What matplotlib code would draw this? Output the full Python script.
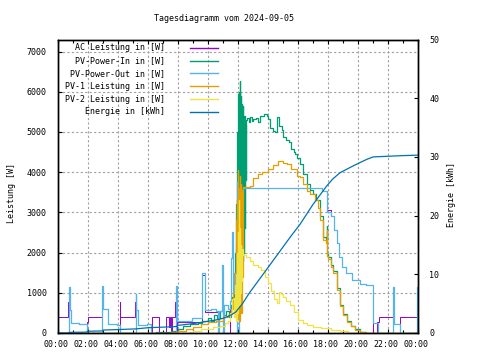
import matplotlib
matplotlib.use("Agg")
import matplotlib.pyplot as plt
from matplotlib.patches import Rectangle
from matplotlib.ticker import MultipleLocator
from matplotlib.transforms import ScaledTranslation

# time in hours, power in W, energy in kWh
ac_t = [0, 0.68, 0.72, 1.93, 2.0, 2.95, 4.12, 4.16, 5.13, 5.17, 6.25, 6.73, 7.22, 7.40, 7.47,
        7.55, 7.62, 7.78, 7.85, 7.9, 9.58, 9.8, 10.69, 11.45, 11.55, 11.6, 11.65, 11.75,
        11.85, 11.93, 11.96, 12.05, 12.15, 12.25, 12.33, 17.6, 17.9, 18.2, 18.4, 18.6,
        18.73, 18.95, 19.2, 19.6, 20.1, 20.5, 21.02, 21.24, 21.4, 22.36, 22.8, 24.0]
ac_w = [390, 780, 0, 280, 390, 0, 780, 390, 780, 0, 390, 0, 390, 150, 390,
        0, 390, 780, 0, 280, 1450, 520, 0, 800, 1870, 2500, 1000, 1500,
        2200, 3700, 0, 2800, 3200, 3550, 3610, 3520, 3070, 2900, 2570, 2250,
        1900, 1650, 1490, 1320, 1220, 1190, 0, 280, 390, 0, 390, 390]

pv_in_t = [0, 6.5, 7.5, 8.0, 8.3, 8.8, 9.3, 9.6, 10.0, 10.2, 10.4, 10.6, 10.8, 11.0, 11.2,
           11.4, 11.5, 11.6, 11.7, 11.8, 11.85, 11.9, 11.93, 11.96, 11.99, 12.02, 12.05,
           12.08, 12.11, 12.13, 12.15, 12.18, 12.21, 12.24, 12.27, 12.30, 12.33, 12.36,
           12.39, 12.42, 12.45, 12.48, 12.52, 12.56, 12.6, 12.7, 12.8, 12.9, 13.0, 13.2,
           13.35, 13.45, 13.7, 13.9, 14.0, 14.1, 14.3, 14.45, 14.6, 14.7, 14.9, 15.0, 15.2,
           15.4, 15.5, 15.7, 15.8, 15.91, 16.1, 16.36, 16.6, 16.8, 17.0, 17.2, 17.47, 17.69,
           17.85, 17.91, 17.95, 18.0, 18.2, 18.36, 18.58, 18.8, 19.0, 19.24, 19.5, 19.8,
           20.13, 20.5, 20.8, 24.0]
pv_in_w = [0, 20, 40, 100, 180, 220, 250, 300, 380, 300, 450, 380, 550, 450, 550,
           400, 700, 900, 1100, 2000, 3200, 3750, 1500, 5000, 1200, 5950, 1500,
           6000, 1400, 6280, 1800, 5900, 1500, 5700, 2500, 5650, 1800, 5300,
           2000, 5400, 2600, 5200, 3800, 5300, 5350, 5240, 5380, 5280, 5320, 5350,
           5250, 5400, 5440, 5400, 5330, 5090, 5030, 5000, 5360, 5150, 5040, 4870, 4800,
           4750, 4580, 4500, 4450, 4360, 4200, 3950, 3700, 3560, 3450, 3300, 2900, 2400,
           2330, 2650, 1960, 1900, 1700, 1530, 1110, 690, 470, 300, 180, 90,
           35, 10, 0, 0]

pv_out_t = [0, 0.72, 0.78, 0.85, 1.4, 1.93, 2.95, 3.0, 3.35, 3.9, 4.12, 5.17, 5.22, 5.3,
            5.9, 6.2, 7.85, 7.9, 8.9, 9.58, 9.8, 10.2, 10.5, 10.69, 10.75, 10.9, 10.97,
            11.0, 11.05, 11.3, 11.45, 11.55, 11.6, 11.65, 11.75, 11.85, 11.93, 11.96,
            12.02, 12.05, 12.15, 12.25, 12.33, 13.0, 17.47, 17.6, 17.9, 17.93, 17.96,
            18.2, 18.4, 18.6, 18.73, 18.95, 19.2, 19.6, 20.1, 20.5, 21.02, 21.3, 22.36,
            22.42, 22.8, 23.9, 24.0]
pv_out_w = [0, 1140, 575, 240, 215, 0, 1160, 600, 225, 200, 0, 980, 575, 200,
            220, 0, 1170, 300, 365, 1500, 560, 600, 540, 0, 550, 1700, 1170,
            0, 700, 600, 800, 1870, 2500, 1000, 1500, 2200, 3750, 0,
            0, 2800, 3200, 3550, 3610, 3600, 3600, 3530, 3070, 3480, 3000,
            2900, 2570, 2250, 1900, 1650, 1490, 1320, 1220, 1190, 250, 0, 1140,
            230, 0, 1140, 1140]

pv1_t = [0, 6.4, 7.5, 8.0, 8.5, 9.0, 9.5, 10.0, 10.5, 11.0, 11.3, 11.5, 11.67, 11.8, 11.85,
         11.9, 11.93, 11.96, 12.0, 12.03, 12.06, 12.09, 12.12, 12.15, 12.18, 12.21, 12.24,
         12.27, 12.30, 12.33, 12.6, 12.8, 13.02, 13.3, 13.6, 14.0, 14.3, 14.69, 15.0, 15.24,
         15.5, 15.91, 16.13, 16.36, 16.6, 16.8, 17.13, 17.3, 17.47, 17.69, 17.85, 17.91,
         17.95, 18.0, 18.2, 18.36, 18.58, 18.8, 19.0, 19.24, 19.5, 19.8, 20.13, 20.5, 20.8, 24.0]
pv1_w = [0, 10, 20, 60, 100, 150, 220, 270, 300, 400, 450, 600, 1000, 1500, 2800,
         1300, 3300, 600, 4050, 400, 3600, 300, 3900, 900, 3700, 500, 3500,
         1400, 3600, 3630, 3620, 3650, 3860, 3950, 4000, 4070, 4180, 4280, 4240, 4200,
         4080, 3900, 3880, 3700, 3520, 3450, 3320, 3100, 2820, 2320, 2250, 2570,
         1910, 1850, 1650, 1490, 1075, 660, 450, 285, 170, 80, 30, 10, 0, 0]

pv2_t = [0, 8.8, 9.0, 9.5, 10.0, 10.3, 10.8, 11.1, 11.3, 11.45, 11.6, 11.7, 11.8, 11.85,
         11.9, 11.95, 12.0, 12.03, 12.06, 12.09, 12.12, 12.15, 12.18, 12.21, 12.25, 12.3,
         12.5, 12.8, 13.0, 13.3, 13.5, 13.8, 14.02, 14.2, 14.4, 14.58, 14.75, 14.85, 15.0,
         15.2, 15.47, 15.7, 16.02, 16.3, 16.6, 17.02, 17.5, 18.2, 18.8, 19.3, 24.0]
pv2_w = [0, 20, 60, 100, 110, 150, 180, 250, 300, 500, 850, 400, 1200, 300,
         2000, 500, 2500, 900, 3300, 700, 2600, 1000, 2200, 1300, 2100, 1950,
         1880, 1780, 1700, 1650, 1560, 1400, 1240, 1050, 850, 740, 1030, 980, 900,
         800, 700, 520, 325, 250, 200, 160, 120, 80, 40, 0, 0]

energy_t = [0, 0.7, 0.72, 1.93, 1.95, 2.97, 3.0, 4.13, 5.2, 6.0, 7.0, 7.9, 8.0, 9.0, 10.0,
            10.5, 11.0, 11.5, 11.86, 12.3, 12.75, 13.5, 14.5, 15.5, 16.13, 17.0, 17.9,
            18.3, 18.8, 19.7, 20.6, 21.02, 22.8, 24.0]
energy_kwh = [0, 0, 0.1, 0.15, 0.3, 0.35, 0.5, 0.6, 0.7, 0.9, 1.0, 1.1, 1.3, 1.6, 2.0,
              2.2, 2.5, 3.0, 3.6, 5.0, 6.8, 9.4, 12.9, 16.4, 18.5, 21.9, 25.0,
              26.2, 27.3, 28.5, 29.6, 30.0, 30.2, 30.3]

x_ticks = list(range(0, 25, 2))
x_tick_labels = ["00:00", "02:00", "04:00", "06:00", "08:00", "10:00", "12:00",
                 "14:00", "16:00", "18:00", "20:00", "22:00", "00:00"]
y_ticks = list(range(0, 7001, 1000))
y2_ticks = list(range(0, 51, 10))

series_labels = ["AC Leistung in [W]", "PV-Power-In in [W]", "PV-Power-Out in [W]",
                 "PV-1 Leistung in [W]", "PV-2 Leistung in [W]", "Energie in [kWh]"]
colors = ["#9400d3", "#009e73", "#56b4e9", "#e69f00", "#f0e442", "#0072b2"]
widths = [0.7, 0.9, 0.9, 0.9, 0.9]

plt.rcParams["font.family"] = "DejaVu Sans Mono"
plt.rcParams["font.size"] = 6

fig = plt.figure(figsize=(4.8, 3.6), dpi=100)
ax = fig.add_axes([58 / 480, 27 / 360, 360 / 480, 293.5 / 360])
ax2 = ax.twinx()

power_series = [(ac_t, ac_w), (pv_in_t, pv_in_w), (pv_out_t, pv_out_w), (pv1_t, pv1_w), (pv2_t, pv2_w)]
for (t, w), color, lw in zip(power_series, colors, widths):
    ax.step(t, w, where="post", color=color, linewidth=lw, zorder=2)
ax2.plot(energy_t, energy_kwh, color=colors[5], linewidth=0.9)

ax.set_xlim(0, 24)
ax.set_ylim(0, 7300)
ax2.set_ylim(0, 50)

ax.set_xticks(x_ticks)
ax.set_xticklabels(x_tick_labels)
ax.xaxis.set_minor_locator(MultipleLocator(1))
ax.set_yticks(y_ticks)
ax.set_yticklabels([str(v) for v in y_ticks])
ax2.set_yticks(y2_ticks)
ax2.set_yticklabels([str(v) for v in y2_ticks])

ax.grid(True, color="#a0a0a0", linestyle=(0, (2, 2)), linewidth=0.8)
ax.tick_params(axis="x", which="major", direction="in", length=3, width=0.8, top=True, pad=5)
ax.tick_params(axis="x", which="minor", direction="in", length=2, width=0.8, top=True)
ax.tick_params(axis="y", direction="in", length=3, width=0.8, right=False, pad=8)
ax2.tick_params(axis="y", direction="in", length=3, width=0.8, pad=8)
shift = ScaledTranslation(-2 / 100, 0, fig.dpi_scale_trans)
for lab in ax.get_xticklabels():
    lab.set_transform(lab.get_transform() + shift)

for a in (ax, ax2):
    for s in a.spines.values():
        s.set_linewidth(1.0)
        s.set_color("black")

# key area hides the grid, like gnuplot does
ax.add_patch(Rectangle((0, 0.734), 0.464, 0.266, transform=ax.transAxes,
                       facecolor="white", edgecolor="none", zorder=1.5))
for i, (label, color) in enumerate(zip(series_labels, colors)):
    y = 0.9717 - i * 0.0437
    ax.text(0.297, y, label, ha="right", va="center", transform=ax.transAxes, zorder=3)
    ax.plot([0.367, 0.444], [y, y], color=color, linewidth=1.0, transform=ax.transAxes, zorder=3)

fig.text(223.5 / 480, 1 - 18.3 / 360, "Tagesdiagramm vom 2024-09-05", ha="center", va="center")
fig.text(12 / 480, 1 - 193 / 360, "Leistung [W]", rotation=90, ha="center", va="center")
fig.text(452 / 480, 1 - 194.5 / 360, "Energie [kWh]", rotation=90, ha="center", va="center")

fig.savefig("out.png", dpi=100)
